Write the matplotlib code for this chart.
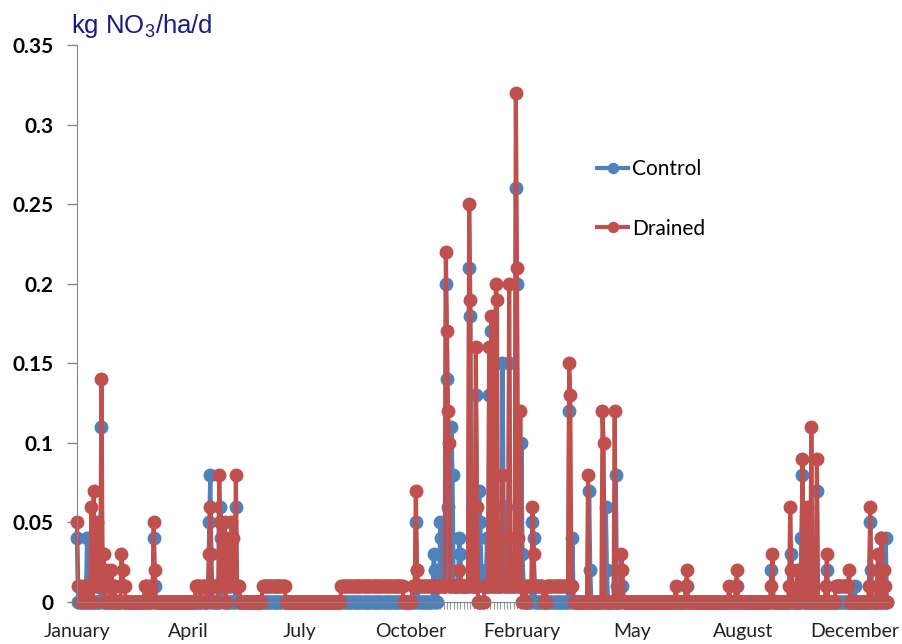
import numpy as np
import matplotlib.pyplot as plt

plt.rcParams['font.family'] = ['Lato', 'DejaVu Sans']

n_days = 730

month_ticks = [0, 100, 200, 300, 400, 500, 600, 700]
month_labels = ['January', 'April', 'July', 'October', 'February', 'May', 'August', 'December']

y_ticks = [0, 0.05, 0.1, 0.15, 0.2, 0.25, 0.3, 0.35]
y_labels = ['0', '0.05', '0.1', '0.15', '0.2', '0.25', '0.3', '0.35']

# stretches (first day, last day) where the load sits at the 0.01 level
control_low = [(325, 403)]
drained_low = [(1, 3), (6, 8), (10, 12), (16, 17), (19, 21), (26, 29), (33, 34),
               (42, 43), (61, 63), (66, 67),
               (107, 110), (112, 115), (117, 119), (122, 126), (131, 132),
               (136, 138), (141, 142), (144, 146),
               (167, 187), (238, 293), (302, 359), (367, 400), (405, 419),
               (423, 446), (683, 695)]

# single days above the base level
control_days = [0, 9, 22, 69, 70, 119, 120, 121, 129, 130, 133, 143, 144,
                305, 306, 321, 322, 327, 328, 332, 333, 334, 337, 338, 344, 345,
                353, 354, 359, 360, 362, 363, 364, 369, 371, 373, 383, 384, 386,
                389, 395, 396, 400, 401, 410, 411,
                443, 446, 461, 462, 476, 477, 485, 486, 491,
                549, 594, 625, 643, 652, 653, 666, 675, 700, 714, 715, 724, 728]
control_vals = [0.04, 0.04, 0.11, 0.04, 0.01, 0.05, 0.08, 0.03, 0.06, 0.04, 0.03, 0.06, 0.01,
                0.05, 0.02, 0.03, 0.02, 0.05, 0.04, 0.20, 0.14, 0.06, 0.11, 0.08, 0.04, 0.03,
                0.21, 0.18, 0.13, 0.07, 0.07, 0.05, 0.02, 0.04, 0.13, 0.17, 0.15, 0.06, 0.06,
                0.15, 0.26, 0.20, 0.10, 0.03, 0.05, 0.04,
                0.12, 0.04, 0.07, 0.02, 0.06, 0.02, 0.08, 0.01, 0.01,
                0.01, 0.01, 0.02, 0.03, 0.04, 0.08, 0.07, 0.02, 0.01, 0.05, 0.02, 0.04, 0.04]

drained_days = [0, 13, 15, 18, 22, 23, 24, 27, 31, 40, 41, 69, 70,
                119, 120, 128, 129, 130, 133, 135, 139, 140, 143,
                305, 306, 332, 333, 334, 335, 344, 353, 354, 359, 360, 371, 373,
                377, 378, 383, 389, 390, 395, 396, 397, 399, 410, 411,
                443, 444, 460, 473, 474, 484, 490, 491,
                539, 548, 549, 587, 593, 594, 625, 626, 641, 642, 643, 648, 653,
                657, 661, 666, 674, 675, 695, 713, 714, 720, 721, 722, 724, 726, 727]
drained_vals = [0.05, 0.06, 0.07, 0.05, 0.14, 0.02, 0.03, 0.02, 0.02, 0.03, 0.02, 0.05, 0.02,
                0.03, 0.06, 0.08, 0.05, 0.03, 0.05, 0.04, 0.05, 0.04, 0.08,
                0.07, 0.02, 0.22, 0.17, 0.12, 0.10, 0.02, 0.25, 0.19, 0.16, 0.06, 0.16, 0.18,
                0.20, 0.19, 0.08, 0.20, 0.04, 0.32, 0.21, 0.04, 0.12, 0.06, 0.03,
                0.15, 0.13, 0.08, 0.12, 0.10, 0.12, 0.03, 0.02,
                0.01, 0.01, 0.02, 0.01, 0.01, 0.02, 0.01, 0.03, 0.01, 0.06, 0.02, 0.02, 0.09,
                0.06, 0.11, 0.09, 0.01, 0.03, 0.02, 0.01, 0.06, 0.01, 0.03, 0.02, 0.04, 0.02, 0.01]


def build_series(low_ranges, days, vals):
    s = np.zeros(n_days)
    for a, b in low_ranges:
        s[a:b + 1] = 0.01
    for d, v in zip(days, vals):
        s[d] = v
    return s


control = build_series(control_low, control_days, control_vals)
drained = build_series(drained_low, drained_days, drained_vals)
days = np.arange(n_days)

fig = plt.figure(figsize=(9.02, 6.44), dpi=100)
ax = fig.add_axes([77 / 902, 42 / 644, 813 / 902, 557 / 644])
ax.set_axisbelow(True)

ax.plot(days, control, color='#4F81BD', lw=3.0, marker='o', ms=9,
        label='Control', clip_on=False)
ax.plot(days, drained, color='#C0504D', lw=3.0, marker='o', ms=9,
        label='Drained', clip_on=False)

ax.set_xlim(0, 731.8)
ax.set_ylim(0, 0.35)

ax.set_yticks(y_ticks)
ax.set_yticklabels(y_labels, fontsize=15, fontweight='bold')
ax.set_xticks(month_ticks)
ax.set_xticklabels(month_labels, fontsize=14, color='#222222')
ax.set_xticks(np.arange(0, n_days, 3), minor=True)

for side in ['top', 'right']:
    ax.spines[side].set_visible(False)
for side in ['left', 'bottom']:
    ax.spines[side].set_color('#868686')
ax.tick_params(axis='y', direction='out', length=7, width=1, color='#868686', pad=10)
ax.tick_params(axis='x', which='major', direction='out', length=5, width=1,
               color='#999999', pad=10)
ax.tick_params(axis='x', which='minor', direction='out', length=5, width=0.8,
               color='#999999')

fig.text(71 / 902, 1 - 33 / 644, r'kg NO$_\mathregular{3}$/ha/d', fontsize=18.5,
         color='#1A1A80', family='Liberation Sans', va='baseline')

ax.legend(frameon=False, loc='upper left', bbox_to_anchor=(597 / 902, 1 - 159 / 644),
          bbox_transform=fig.transFigure, fontsize=15, labelspacing=1.9,
          handlelength=1.5, handletextpad=0.2, borderpad=0, borderaxespad=0,
          markerscale=0.8)

fig.savefig('out.png', dpi=100)
